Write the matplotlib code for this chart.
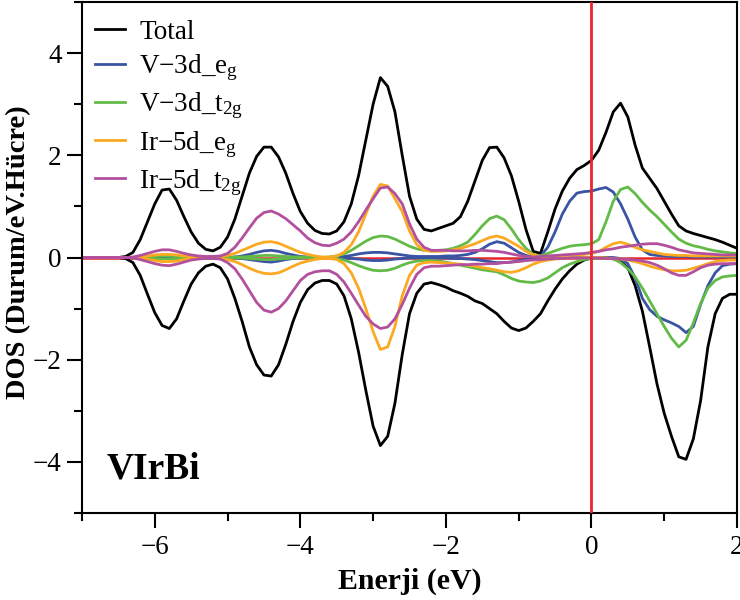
import numpy as np
import matplotlib
matplotlib.use('Agg')
import matplotlib.pyplot as plt
from matplotlib.ticker import MultipleLocator

plt.rcParams['font.family'] = ['Liberation Serif', 'DejaVu Serif']
plt.rcParams['mathtext.fontset'] = 'custom'
plt.rcParams['mathtext.rm'] = 'Liberation Serif'
plt.rcParams['mathtext.it'] = 'Liberation Serif:italic'
plt.rcParams['mathtext.bf'] = 'Liberation Serif:bold'

# Energy grid (eV), 0.1 eV steps from -7 to 2
energy = np.round(np.linspace(-7.0, 2.0, 91), 2)

total_up = [
    0, 0, 0, 0, 0, 0, 0.02, 0.1, 0.35, 0.7,
    1.05, 1.32, 1.34, 1.12, 0.8, 0.5, 0.28, 0.16, 0.13, 0.2,
    0.4, 0.75, 1.2, 1.65, 1.98, 2.16, 2.16, 1.97, 1.65, 1.25,
    0.9, 0.67, 0.53, 0.47, 0.46, 0.52, 0.7, 1.05, 1.6, 2.3,
    3.0, 3.52, 3.35, 2.85, 2.0, 1.2, 0.75, 0.55, 0.52, 0.57,
    0.62, 0.67, 0.8, 1.1, 1.5, 1.9, 2.15, 2.16, 1.95, 1.6,
    1.1, 0.55, 0.12, 0.08, 0.5, 0.95, 1.3, 1.55, 1.72, 1.8,
    1.9, 2.1, 2.45, 2.85, 3.02, 2.75, 2.2, 1.75, 1.55, 1.35,
    1.1, 0.85, 0.62, 0.52, 0.47, 0.43, 0.39, 0.35, 0.3, 0.24,
    0.18]
total_dn = [
    0, 0, 0, 0, 0, 0, -0.02, -0.1, -0.35, -0.72,
    -1.08, -1.33, -1.39, -1.2, -0.85, -0.52, -0.3, -0.17, -0.13, -0.2,
    -0.42, -0.8, -1.25, -1.75, -2.1, -2.3, -2.32, -2.1, -1.7, -1.25,
    -0.88, -0.63, -0.5, -0.45, -0.45, -0.52, -0.75, -1.2, -1.85, -2.6,
    -3.3, -3.68, -3.5, -2.85, -1.9, -1.1, -0.7, -0.52, -0.49, -0.53,
    -0.58, -0.65, -0.7, -0.76, -0.85, -0.9, -1.0, -1.1, -1.25, -1.38,
    -1.43, -1.38, -1.25, -1.1, -0.85, -0.62, -0.42, -0.26, -0.13, -0.05,
    -0.01, 0, 0, -0.02, -0.08, -0.2, -0.55, -1.05, -1.75, -2.47,
    -3.05, -3.5, -3.9, -3.95, -3.55, -2.8, -1.75, -1.1, -0.8, -0.72,
    -0.72]

v_eg_up = [
    0, 0, 0, 0, 0, 0, 0, 0, 0, 0.01,
    0.01, 0.02, 0.02, 0.01, 0.01, 0, 0, 0, 0, 0,
    0, 0.01, 0.03, 0.06, 0.1, 0.13, 0.14, 0.12, 0.08, 0.05,
    0.02, 0.01, 0, 0, 0, 0.01, 0.02, 0.04, 0.07, 0.09,
    0.1, 0.1, 0.09, 0.07, 0.05, 0.03, 0.02, 0.02, 0.02, 0.02,
    0.03, 0.03, 0.04, 0.06, 0.1, 0.17, 0.26, 0.31, 0.28, 0.19,
    0.1, 0.04, 0.01, 0.03, 0.2, 0.5, 0.85, 1.1, 1.26, 1.29,
    1.3, 1.34, 1.37, 1.28, 1.05, 0.75, 0.4, 0.15, 0.06, 0.04,
    0.03, 0.02, 0.02, 0.02, 0.01, 0.01, 0.01, 0.01, 0.01, 0.01,
    0.01]
v_eg_dn = [
    0, 0, 0, 0, 0, 0, 0, 0, 0, 0,
    0, -0.01, -0.01, -0.01, 0, 0, 0, 0, 0, 0,
    0, -0.01, -0.02, -0.04, -0.06, -0.08, -0.09, -0.07, -0.04, -0.02,
    -0.01, 0, 0, 0, 0, 0, -0.01, -0.02, -0.03, -0.05,
    -0.06, -0.06, -0.05, -0.03, -0.02, -0.01, -0.01, -0.01, -0.01, -0.01,
    -0.01, -0.02, -0.02, -0.03, -0.04, -0.06, -0.08, -0.1, -0.1, -0.09,
    -0.06, -0.03, -0.01, 0, 0, 0, 0, 0, 0, 0,
    0, 0, 0, 0, -0.02, -0.12, -0.4, -0.8, -1.02, -1.15,
    -1.22, -1.28, -1.35, -1.47, -1.35, -0.92, -0.55, -0.3, -0.16, -0.13,
    -0.12]

v_t2g_up = [
    0, 0, 0, 0, 0, 0, 0, 0, 0, 0.01,
    0.02, 0.03, 0.03, 0.02, 0.01, 0, 0, 0, 0, 0,
    0, 0.01, 0.01, 0.02, 0.03, 0.04, 0.04, 0.03, 0.02, 0.01,
    0.01, 0, 0, 0, 0.01, 0.03, 0.07, 0.14, 0.23, 0.32,
    0.39, 0.42, 0.41, 0.36, 0.29, 0.22, 0.17, 0.14, 0.13, 0.14,
    0.15, 0.18, 0.23, 0.3, 0.45, 0.62, 0.76, 0.81, 0.74, 0.56,
    0.35, 0.18, 0.06, 0.03, 0.08, 0.13, 0.18, 0.22, 0.24, 0.25,
    0.27, 0.35, 0.7, 1.1, 1.33, 1.38, 1.25, 1.08, 0.93, 0.8,
    0.65, 0.5, 0.36, 0.28, 0.23, 0.2, 0.16, 0.13, 0.11, 0.09,
    0.08]
v_t2g_dn = [
    0, 0, 0, 0, 0, 0, 0, 0, 0, -0.01,
    -0.02, -0.03, -0.03, -0.02, -0.01, 0, 0, 0, 0, 0,
    0, -0.01, -0.01, -0.02, -0.03, -0.04, -0.04, -0.03, -0.02, -0.01,
    -0.01, 0, 0, 0, 0, -0.02, -0.05, -0.1, -0.16, -0.21,
    -0.25, -0.26, -0.25, -0.21, -0.15, -0.1, -0.07, -0.06, -0.06, -0.07,
    -0.09, -0.12, -0.15, -0.18, -0.21, -0.24, -0.26, -0.28, -0.34, -0.41,
    -0.46, -0.48, -0.49, -0.46, -0.4, -0.3, -0.2, -0.13, -0.08, -0.04,
    -0.02, -0.01, -0.01, -0.03, -0.1, -0.22, -0.38, -0.6, -0.85, -1.1,
    -1.35, -1.58, -1.75, -1.62, -1.28, -0.9, -0.6, -0.45, -0.38, -0.36,
    -0.35]

ir_eg_up = [
    0, 0, 0, 0, 0, 0, 0, 0, 0.01, 0.03,
    0.05, 0.06, 0.06, 0.05, 0.03, 0.02, 0.01, 0.01, 0.01, 0.02,
    0.04, 0.08, 0.14, 0.2, 0.26, 0.3, 0.31, 0.28, 0.22, 0.16,
    0.1, 0.06, 0.03, 0.01, 0.01, 0.03, 0.1, 0.25, 0.5, 0.85,
    1.2, 1.43, 1.4, 1.15, 0.9, 0.52, 0.25, 0.14, 0.12, 0.12,
    0.13, 0.15, 0.18, 0.22, 0.27, 0.33, 0.39, 0.42, 0.38, 0.3,
    0.22, 0.12, 0.05, 0.02, 0.02, 0.03, 0.03, 0.04, 0.05, 0.06,
    0.08, 0.12, 0.2, 0.27, 0.3, 0.26, 0.2, 0.15, 0.12, 0.09,
    0.06, 0.05, 0.04, 0.04, 0.03, 0.03, 0.03, 0.03, 0.03, 0.03,
    0.03]
ir_eg_dn = [
    0, 0, 0, 0, 0, 0, 0, 0, -0.01, -0.03,
    -0.06, -0.08, -0.08, -0.07, -0.04, -0.02, -0.01, -0.01, -0.01, -0.02,
    -0.04, -0.08, -0.14, -0.21, -0.27, -0.31, -0.32, -0.3, -0.24, -0.17,
    -0.11, -0.07, -0.04, -0.02, -0.02, -0.04, -0.12, -0.3, -0.6, -1.0,
    -1.45, -1.8, -1.75, -1.35, -0.75, -0.35, -0.15, -0.1, -0.09, -0.1,
    -0.11, -0.12, -0.13, -0.15, -0.17, -0.2, -0.22, -0.25, -0.28, -0.29,
    -0.26, -0.2, -0.13, -0.08, -0.05, -0.03, -0.02, -0.01, -0.01, 0,
    0, 0, -0.01, -0.02, -0.03, -0.05, -0.08, -0.12, -0.17, -0.21,
    -0.24, -0.26, -0.26, -0.25, -0.21, -0.17, -0.12, -0.08, -0.06, -0.05,
    -0.05]

ir_t2g_up = [
    0, 0, 0, 0, 0, 0, 0, 0.01, 0.04, 0.08,
    0.12, 0.15, 0.15, 0.12, 0.08, 0.05, 0.03, 0.02, 0.02, 0.03,
    0.08, 0.2, 0.38, 0.58, 0.77, 0.88, 0.91, 0.85, 0.76, 0.64,
    0.52, 0.38, 0.29, 0.24, 0.23, 0.28, 0.36, 0.5, 0.7, 0.93,
    1.15, 1.36, 1.38, 1.25, 1.05, 0.66, 0.36, 0.2, 0.14, 0.14,
    0.14, 0.13, 0.13, 0.13, 0.14, 0.14, 0.13, 0.12, 0.1, 0.07,
    0.04, 0.02, 0.01, 0.02, 0.03, 0.04, 0.05, 0.06, 0.07, 0.08,
    0.1, 0.12, 0.15, 0.17, 0.2, 0.22, 0.24, 0.26, 0.27, 0.27,
    0.24, 0.2, 0.15, 0.12, 0.09, 0.08, 0.07, 0.06, 0.05, 0.05,
    0.05]
ir_t2g_dn = [
    0, 0, 0, 0, 0, 0, 0, -0.01, -0.04, -0.08,
    -0.12, -0.15, -0.16, -0.13, -0.09, -0.05, -0.03, -0.02, -0.02, -0.03,
    -0.1, -0.22, -0.42, -0.65, -0.88, -1.03, -1.07, -1.0, -0.85, -0.65,
    -0.45, -0.33, -0.28, -0.26, -0.26, -0.33, -0.48, -0.7, -0.93, -1.15,
    -1.3, -1.39, -1.36, -1.2, -0.92, -0.6, -0.33, -0.2, -0.17, -0.17,
    -0.16, -0.15, -0.14, -0.14, -0.13, -0.13, -0.12, -0.12, -0.1, -0.09,
    -0.08, -0.06, -0.05, -0.04, -0.03, -0.02, -0.02, -0.01, -0.01, -0.01,
    -0.01, -0.01, -0.02, -0.02, -0.03, -0.04, -0.05, -0.07, -0.1, -0.15,
    -0.22, -0.3, -0.35, -0.35, -0.28, -0.2, -0.15, -0.13, -0.12, -0.12,
    -0.12]

labels = ['Total', 'V\u22123d_e$_{\\rm g}$', 'V\u22123d_t$_{\\rm 2g}$',
          'Ir\u22125d_e$_{\\rm g}$', 'Ir\u22125d_t$_{\\rm 2g}$']
colors = ['#000000', '#3A54A4', '#62BB47', '#FCA922', '#B3509E']
series = [(total_up, total_dn), (v_eg_up, v_eg_dn), (v_t2g_up, v_t2g_dn),
          (ir_eg_up, ir_eg_dn), (ir_t2g_up, ir_t2g_dn)]

fig = plt.figure(figsize=(7.4, 6.0), dpi=100)
ax = fig.add_axes([82 / 740, 87 / 600, 655 / 740, 511 / 600])

ax.axhline(0, color='#E8262B', lw=1.8, zorder=1)
for (up, dn), c, lab in zip(series, colors, labels):
    ax.plot(energy, up, color=c, lw=2.0, label=lab, zorder=2,
            solid_joinstyle='round')
    ax.plot(energy, dn, color=c, lw=2.0, zorder=2, solid_joinstyle='round')
ax.axvline(0, color='#E8262B', lw=2.0, zorder=5)

ax.set_xlim(-7, 2)
ax.set_ylim(-5, 5)
ax.set_xticks([-6, -4, -2, 0, 2])
ax.set_yticks([-4, -2, 0, 2, 4])
ax.xaxis.set_minor_locator(MultipleLocator(1))
ax.yaxis.set_minor_locator(MultipleLocator(1))
ax.tick_params(which='major', direction='out', length=10.5, width=1.5,
               labelsize=19.5, top=False, right=False)
ax.tick_params(axis='x', which='major', pad=5)
ax.tick_params(axis='y', which='major', pad=4)
ax.tick_params(which='minor', direction='out', length=5.5, width=1.5,
               top=False, right=False)
for s in ax.spines.values():
    s.set_linewidth(1.5)

ax.set_xlabel('Enerji (eV)', fontsize=21.5, fontweight='bold', labelpad=6)
ax.set_ylabel('DOS (Durum/eV.H\u00fccre)', fontsize=20.5, fontweight='bold')
ax.yaxis.set_label_coords(-0.077, 0.51)

ax.text(0.037, 0.068, 'VIrBi', transform=ax.transAxes, fontsize=27,
        fontweight='bold', ha='left', va='baseline')

leg = ax.legend(loc='upper left', bbox_to_anchor=(0.005, 0.984),
                frameon=False, fontsize=19.5,
                handlelength=1.1, handletextpad=0.55, labelspacing=0.28,
                borderaxespad=0.15, borderpad=0.2)

fig.savefig('out.png', dpi=100)
